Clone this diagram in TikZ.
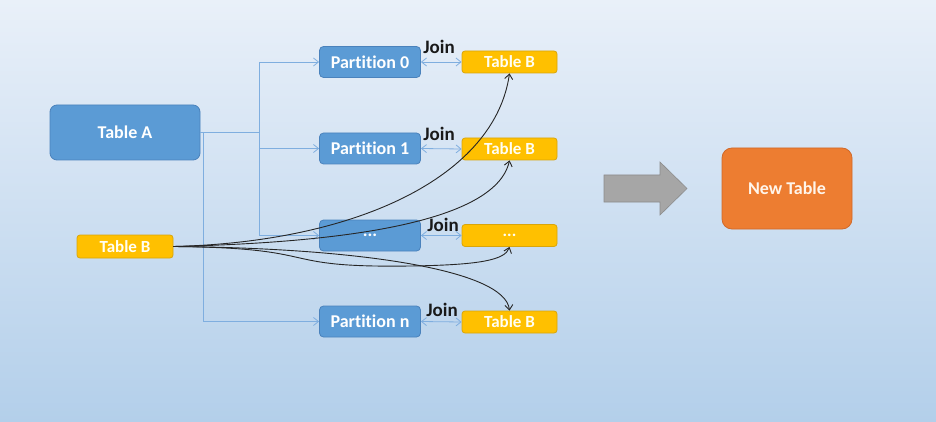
\documentclass[tikz,border=0pt]{standalone}
\usepackage{fontspec}
\setmainfont[Ligatures={NoCommon}]{Carlito}
\usetikzlibrary{arrows.meta,calc}
\definecolor{bluefill}{HTML}{5B9BD5}
\definecolor{blueedge}{HTML}{4A82BC}
\definecolor{yelfill}{HTML}{FFC000}
\definecolor{yeledge}{HTML}{D9A50A}
\definecolor{orfill}{HTML}{ED7D31}
\definecolor{oredge}{HTML}{D0692A}
\definecolor{conncol}{HTML}{7FAEDF}
\definecolor{bgtop}{HTML}{E9F0F9}
\definecolor{bgbot}{HTML}{B3CFEA}
\tikzset{
  bluebox/.style={draw=blueedge, line width=0.8pt, fill=bluefill, rounded corners=4pt, text=white, font=\bfseries\fontsize{18}{20}\selectfont, minimum width=101pt, minimum height=31pt, inner sep=0pt},
  yelbox/.style={draw=yeledge, line width=0.8pt, fill=yelfill, rounded corners=3pt, text=white!95!yellow, font=\bfseries\fontsize{17}{19}\selectfont, minimum width=95pt, minimum height=22pt, inner sep=0pt},
  conn/.style={draw=conncol, line width=0.8pt, -{Straight Barb[length=5pt,width=8pt]}},
  joinarr/.style={draw=conncol, line width=0.8pt, {Straight Barb[length=5pt,width=8pt]}-{Straight Barb[length=5pt,width=8pt]}},
  joinlbl/.style={font=\bfseries\fontsize{19}{21}\selectfont, text=black!90, inner sep=0pt},
  curve/.style={draw=black!85, line width=0.9pt, -{Straight Barb[length=5pt,width=8pt]}}
}
\begin{document}
\begin{tikzpicture}[x=1pt,y=-1pt]
\useasboundingbox (0,0) rectangle (936,422);
\shade[top color=bgtop, bottom color=bgbot] (0,0) rectangle (936,422);

\node[bluebox, minimum width=150pt, minimum height=55pt, rounded corners=7pt] (A) at (125,132.5) {Table A};
\node[yelbox, minimum width=96pt, minimum height=23pt] (BL) at (125,246.5) {Table B};

\node[bluebox] (p0) at (370,62) {Partition 0};
\node[bluebox] (p1) at (370,148.5) {Partition 1};
\node[bluebox] (p2) at (370,235.5) {...};
\node[bluebox] (pn) at (370,321.5) {Partition n};

\node[yelbox] (b0) at (509.5,62) {Table B};
\node[yelbox] (b1) at (509.5,149) {Table B};
\node[yelbox] (b2) at (509.5,235.5) {...};
\node[yelbox] (bn) at (509.5,322) {Table B};

\node[draw=oredge, line width=0.8pt, fill=orfill, rounded corners=10pt, minimum width=130pt, minimum height=81pt, text=white!92!orange, font=\bfseries\fontsize{18}{20}\selectfont] (NT) at (787,188.5) {New Table};

% gray arrow
\filldraw[fill=black!35, draw=black!45, line width=0.6pt] (604,175) -- (660,175) -- (660,162) -- (687,188.5) -- (660,215) -- (660,202) -- (604,202) -- cycle;

% Table A connectors
\coordinate (j) at (259,132.5);
\coordinate (k) at (203,132.5);
\draw[draw=conncol, line width=0.8pt] (A.east) -- (j);
\draw[conn] (j) |- (p0.west);
\draw[conn] (j) |- (p1.west);
\draw[conn] (j) |- (p2.west);
\draw[conn] (k) |- (pn.west);

% Join arrows
\draw[joinarr] (p0.east) -- (b0.west);
\draw[joinarr] (p1.east) -- (b1.west);
\draw[joinarr] (p2.east) -- (b2.west);
\draw[joinarr] (pn.east) -- (bn.west);
\node[joinlbl] (j0) at (439,47) {Join};
\node[joinlbl] (j1) at (439,134) {Join};
\node[joinlbl] (j2) at (443,225) {Join};
\node[joinlbl] (j3) at (442,310) {Join};

% Table B curves
\draw[curve] (BL.east) .. controls (360,242) and (495,175) .. (b0.south);
\draw[curve] (BL.east) .. controls (330,243) and (495,225) .. (b1.south);
\draw[curve] (BL.east) .. controls (330,248) and (270,268) .. (410,266) .. controls (480,265) and (505,260) .. (b2.south);
\draw[curve] (BL.east) .. controls (360,248) and (505,270) .. (bn.north);
\end{tikzpicture}
\end{document}
